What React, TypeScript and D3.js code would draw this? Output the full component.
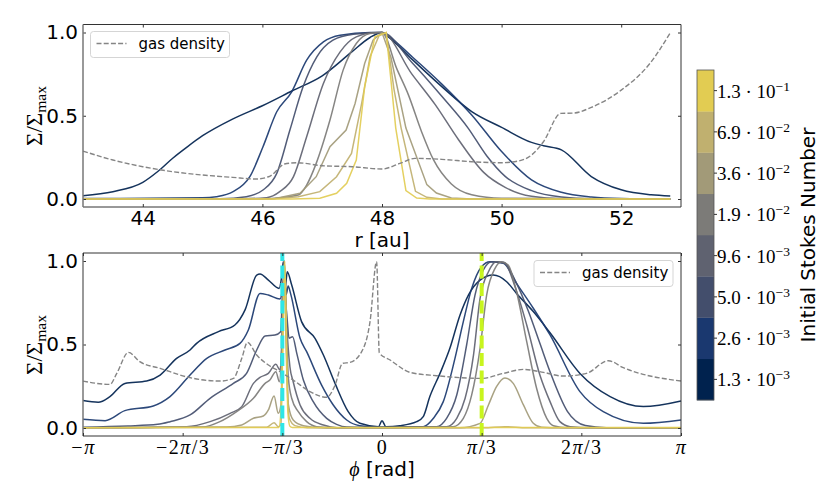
import * as d3 from "d3";
import { useEffect, useRef } from "react";

type Pt = [number, number];

// colour per Stokes bin, lowest first
const stokesColors = ["#00224e", "#1a386f", "#434e6c", "#5f6270", "#7c7b78", "#a29a78", "#c0b06f", "#e2cc52"];
const stokesMant = ["1.3", "2.6", "5.0", "9.6", "1.9", "3.6", "6.9", "1.3"];
const stokesExp = ["−3", "−3", "−3", "−3", "−2", "−2", "−2", "−1"];

// radial profiles, [r au, sigma/sigma_max]
const r1: Pt[] = [[43,.02],[43.5,.044],[44,.1],[44.25,.165],[44.5,.245],[44.75,.315],[45,.38],[45.5,.48],[46,.56],[46.5,.65],[47,.74],[47.5,.885],[47.8,.97],[48,1],[48.1,.975],[48.5,.84],[49,.675],[49.5,.525],[50,.43],[50.5,.34],[50.7,.32],[51,.295],[51.5,.135],[52,.055],[52.5,.025],[52.82,.018]];
const r2: Pt[] = [[43,.003],[45,.007],[45.23,.014],[45.51,.044],[45.79,.134],[46.01,.314],[46.24,.524],[46.49,.644],[46.74,.834],[47.02,.944],[47.3,.984],[47.8,1],[48,1],[48.1,.98],[48.5,.855],[49,.69],[49.5,.505],[50,.285],[50.5,.115],[51,.04],[51.5,.012],[52,.003],[52.82,0]];
const r3: Pt[] = [[43,0],[45.3,.002],[45.73,.014],[46.01,.054],[46.24,.154],[46.46,.414],[46.68,.674],[46.91,.854],[47.18,.954],[47.52,.99],[48,1],[48.5,.82],[49,.617],[49.44,.426],[49.75,.26],[50.06,.136],[50.5,.05],[51,.012],[51.5,.002],[52.82,0]];
const r4: Pt[] = [[43,0],[45.6,.001],[46.07,.008],[46.29,.044],[46.52,.134],[46.74,.374],[47.02,.694],[47.3,.884],[47.57,.974],[47.9,1],[48,1],[48.5,.75],[48.89,.567],[49.28,.356],[49.7,.16],[50.06,.07],[50.5,.016],[51,.002],[52.82,0]];
const r5: Pt[] = [[43,0],[46,.001],[46.6,.024],[46.74,.084],[46.9,.214],[47.13,.474],[47.35,.774],[47.57,.934],[47.8,.994],[48,1],[48.25,.78],[48.44,.627],[48.66,.406],[48.86,.236],[49.16,.09],[49.5,.025],[50,.004],[52.82,0]];
const r6: Pt[] = [[43,0],[46.2,.001],[46.63,.034],[46.9,.134],[47.13,.314],[47.4,.414],[47.55,.574],[47.71,.814],[47.85,.954],[48,1],[48.15,.85],[48.4,.426],[48.75,.086],[48.91,.036],[49.16,.006],[49.5,0],[52.82,0]];
const r7: Pt[] = [[43,0],[46.2,.001],[46.6,.014],[46.96,.044],[47.24,.134],[47.49,.274],[47.66,.574],[47.8,.854],[47.95,.98],[48.07,1],[48.2,.66],[48.32,.426],[48.56,.046],[48.75,.01],[49,0],[52.82,0]];
const r8: Pt[] = [[43,0],[46.5,0],[46.96,.004],[47.24,.034],[47.41,.094],[47.57,.234],[47.71,.674],[47.88,.974],[48.07,1],[48.23,.426],[48.4,.05],[48.58,.006],[48.8,0],[52.82,0]];
const rGas: Pt[] = [[43,.288],[43.5,.234],[44,.194],[44.5,.164],[45,.144],[45.5,.13],[45.9,.12],[46.13,.138],[46.37,.21],[46.57,.218],[47,.2],[47.5,.194],[48,.18],[48.3,.214],[48.55,.244],[49,.238],[49.5,.224],[50,.218],[50.28,.228],[50.5,.264],[50.7,.344],[50.99,.514],[51.2,.516],[51.5,.55],[52,.654],[52.48,.814],[52.82,.998]];

// azimuthal profiles, [phi / pi, sigma/sigma_max]
const p1: Pt[] = [[-1,.164],[-.949,.154],[-.91,.188],[-.86,.267],[-.787,.281],[-.742,.317],[-.687,.417],[-.642,.467],[-.62,.507],[-.547,.577],[-.492,.617],[-.458,.707],[-.419,.916],[-.408,.922],[-.38,.886],[-.344,.836],[-.336,.9],[-.33,.995],[-.323,.85],[-.317,.936],[-.302,.856],[-.269,.637],[-.224,.537],[-.196,.437],[-.157,.267],[-.113,.098],[-.074,.028],[-.012,.008],[0,.044],[.013,.008],[.06,.014],[.116,.038],[.138,.068],[.16,.188],[.194,.327],[.227,.477],[.261,.677],[.289,.796],[.328,.886],[.372,.916],[.417,.876],[.45,.806],[.506,.697],[.562,.57],[.662,.327],[.763,.188],[.874,.128],[1,.162]];
const p2: Pt[] = [[-1,.052],[-.926,.044],[-.86,.104],[-.765,.132],[-.709,.188],[-.642,.317],[-.586,.417],[-.525,.467],[-.475,.507],[-.447,.587],[-.408,.806],[-.38,.796],[-.341,.772],[-.332,.84],[-.326,.92],[-.32,.8],[-.314,.85],[-.305,.8],[-.274,.537],[-.252,.457],[-.202,.257],[-.163,.138],[-.118,.048],[-.074,.014],[-.01,.006],[.138,.008],[.172,.058],[.205,.158],[.244,.417],[.272,.637],[.3,.836],[.333,.966],[.361,.996],[.406,.986],[.45,.866],[.506,.717],[.562,.557],[.662,.218],[.74,.098],[.874,.028],[1,.048]];
const p3: Pt[] = [[-1,.005],[-.85,.012],[-.75,.022],[-.709,.038],[-.642,.078],[-.575,.178],[-.497,.267],[-.453,.327],[-.419,.467],[-.391,.551],[-.358,.557],[-.339,.577],[-.33,.9],[-.322,.75],[-.317,.647],[-.311,.537],[-.299,.547],[-.285,.447],[-.263,.287],[-.23,.158],[-.185,.058],[-.152,.022],[-.118,.006],[0,.002],[.183,.008],[.216,.058],[.25,.198],[.283,.497],[.311,.796],[.339,.946],[.367,.996],[.406,.992],[.45,.866],[.49,.697],[.528,.507],[.562,.337],[.62,.1],[.68,.015],[.75,.002],[1,.002]];
const p4: Pt[] = [[-1,.001],[-.653,.008],[-.575,.038],[-.508,.088],[-.469,.128],[-.43,.267],[-.408,.303],[-.38,.327],[-.355,.381],[-.341,.347],[-.335,.5],[-.327,1],[-.318,.6],[-.308,.367],[-.297,.277],[-.274,.138],[-.241,.058],[-.196,.018],[-.15,.002],[.216,.008],[.25,.058],[.278,.178],[.306,.437],[.328,.776],[.356,.936],[.383,.996],[.411,.986],[.445,.846],[.484,.617],[.528,.317],[.562,.158],[.595,.038],[.629,.008],[.7,.001],[1,.001]];
const p5: Pt[] = [[-1,.001],[-.6,.006],[-.542,.038],[-.486,.098],[-.43,.178],[-.391,.267],[-.375,.287],[-.355,.337],[-.343,.277],[-.335,.5],[-.327,1],[-.32,.6],[-.313,.297],[-.302,.178],[-.28,.098],[-.252,.038],[-.219,.008],[-.15,.001],[.238,.008],[.272,.058],[.3,.198],[.328,.477],[.35,.796],[.378,.956],[.4,.996],[.422,.976],[.45,.816],[.484,.517],[.517,.238],[.551,.058],[.573,.014],[.62,.001],[1,.001]];
const p6: Pt[] = [[-1,.001],[-.52,.006],[-.469,.018],[-.43,.058],[-.397,.072],[-.38,.108],[-.361,.192],[-.347,.088],[-.338,.138],[-.327,1],[-.32,.5],[-.313,.138],[-.297,.048],[-.263,.014],[-.2,.002],[.26,.002],[.328,.028],[.356,.138],[.383,.248],[.411,.3],[.439,.267],[.473,.138],[.506,.028],[.534,.004],[.6,.001],[1,.001]];
const p7: Pt[] = [[-1,.002],[-.386,.004],[-.361,.032],[-.347,.008],[-.338,.02],[-.327,.98],[-.318,.3],[-.31,.058],[-.291,.014],[-.25,.002],[.34,.002],[.411,.008],[.484,.002],[1,.002]];
const p8: Pt[] = [[-1,.002],[-.345,.003],[-.338,.1],[-.33,.6],[-.325,1],[-.32,.6],[-.315,.1],[-.308,.01],[-.3,.003],[1,.003]];
const pGas: Pt[] = [[-1,.281],[-.91,.261],[-.887,.327],[-.848,.453],[-.81,.397],[-.742,.357],[-.631,.297],[-.542,.281],[-.497,.297],[-.469,.417],[-.45,.513],[-.419,.437],[-.38,.377],[-.341,.337],[-.297,.287],[-.241,.218],[-.185,.184],[-.157,.257],[-.132,.387],[-.107,.393],[-.068,.457],[-.04,.637],[-.018,.996],[-.009,.45],[.027,.407],[.094,.333],[.183,.313],[.333,.297],[.406,.327],[.473,.351],[.54,.333],[.606,.311],[.684,.327],[.757,.403],[.807,.361],[1,.281]];

const radial = [r1, r2, r3, r4, r5, r6, r7, r8];
const azimuthal = [p1, p2, p3, p4, p5, p6, p7, p8];

const rTicks = [44, 46, 48, 50, 52];
const phiTicks = [-1, -2 / 3, -1 / 3, 0, 1 / 3, 2 / 3, 1];
const phiLabels = ["−<tspan font-style='italic'>π</tspan>", "−2<tspan font-style='italic'>π</tspan>/3", "−<tspan font-style='italic'>π</tspan>/3", "0", "<tspan font-style='italic'>π</tspan>/3", "2<tspan font-style='italic'>π</tspan>/3", "<tspan font-style='italic'>π</tspan>"];
const sigmaTicks = [0, 0.5, 1];
const planetPhi = -1 / 3;
const vortexPhi = 1 / 3;

const SANS = "'DejaVu Sans', sans-serif";
const SERIF = "'Liberation Serif', serif";

function drawPanel(
  svg: d3.Selection<SVGSVGElement, unknown, null, undefined>,
  box: { l: number; r: number; t: number; b: number; y0: number; y1: number },
  xDomain: [number, number],
  profiles: Pt[][],
  gas: Pt[],
  firstLinear: number,
) {
  const x = d3.scaleLinear().domain(xDomain).range([box.l, box.r]);
  const y = d3.scaleLinear().domain([0, 1]).range([box.y0, box.y1]);
  const line = d3.line<Pt>().x((d) => x(d[0])).y((d) => y(d[1])).curve(d3.curveMonotoneX);
  const straight = d3.line<Pt>().x((d) => x(d[0])).y((d) => y(d[1]));

  const g = svg.append("g");
  profiles.forEach((pts, i) => {
    g.append("path").attr("d", i >= firstLinear ? straight(pts) : line(pts)).attr("fill", "none")
      .attr("stroke", stokesColors[i]).attr("stroke-width", 1.5).attr("stroke-opacity", 0.92);
  });
  g.append("path").attr("d", line(gas)).attr("fill", "none")
    .attr("stroke", "#858585").attr("stroke-width", 1.4).attr("stroke-dasharray", "5,2.2");
  return { x, y, g };
}

function frame(
  svg: d3.Selection<SVGSVGElement, unknown, null, undefined>,
  box: { l: number; r: number; t: number; b: number },
  y: d3.ScaleLinear<number, number>,
) {
  const left = svg.append("g").attr("transform", `translate(${box.l},0)`)
    .call(d3.axisLeft(y).tickValues(sigmaTicks).tickFormat(d3.format(".1f")).tickSizeInner(-3).tickSizeOuter(0).tickPadding(5));
  left.selectAll("text").attr("font-family", SANS).attr("font-size", 20).attr("fill", "#000");
  left.selectAll("line").attr("stroke", "#333");
  left.select("path.domain").remove();
  const right = svg.append("g").attr("transform", `translate(${box.r},0)`)
    .call(d3.axisRight(y).tickValues(sigmaTicks).tickFormat(() => "").tickSizeInner(-3).tickSizeOuter(0));
  right.selectAll("line").attr("stroke", "#333");
  right.select("path.domain").remove();
  svg.append("line").attr("x1", box.l).attr("x2", box.r).attr("y1", box.t).attr("y2", box.t).attr("stroke", "#333");
  svg.append("line").attr("x1", box.l).attr("x2", box.r).attr("y1", box.b).attr("y2", box.b).attr("stroke", "#333");
  svg.append("line").attr("x1", box.r).attr("x2", box.r).attr("y1", box.t).attr("y2", box.b).attr("stroke", "#333");
  svg.append("line").attr("x1", box.l).attr("x2", box.l).attr("y1", box.t).attr("y2", box.b).attr("stroke", "#777").attr("stroke-width", 1.5);
}

function legend(svg: d3.Selection<SVGSVGElement, unknown, null, undefined>, lx: number, ly: number) {
  const g = svg.append("g").attr("transform", `translate(${lx},${ly})`);
  g.append("rect").attr("width", 139).attr("height", 26).attr("rx", 3)
    .attr("fill", "#fff").attr("fill-opacity", 0.8).attr("stroke", "#d5d5d5");
  g.append("line").attr("x1", 6).attr("x2", 36).attr("y1", 12).attr("y2", 12)
    .attr("stroke", "#858585").attr("stroke-width", 1.4).attr("stroke-dasharray", "5,2.2");
  g.append("text").attr("x", 48).attr("y", 17.5).attr("font-family", SANS).attr("font-size", 15).text("gas density");
}

function sigmaLabel(svg: d3.Selection<SVGSVGElement, unknown, null, undefined>, cy: number) {
  const t = svg.append("text").attr("transform", `translate(42,${cy}) rotate(-90)`)
    .attr("text-anchor", "middle").attr("font-family", SERIF).attr("font-size", 23);
  t.append("tspan").text("Σ/Σ");
  t.append("tspan").attr("font-size", 15.5).attr("dy", 4).text("max");
}

export default function App() {
  const ref = useRef<SVGSVGElement>(null);
  useEffect(() => {
    if (!ref.current) return;
    const svg = d3.select(ref.current);
    svg.selectAll("*").remove();

    // top panel
    const topBox = { l: 83, r: 681, t: 24.5, b: 207, y0: 199, y1: 32.5 };
    const top = drawPanel(svg, topBox, [43, 53], radial, rGas, 5);
    frame(svg, topBox, top.y);
    const topAxis = svg.append("g").attr("transform", `translate(0,${topBox.b})`)
      .call(d3.axisBottom(top.x).tickValues(rTicks).tickFormat(d3.format("d")).tickSizeInner(-3).tickSizeOuter(0).tickPadding(4));
    topAxis.selectAll("text").attr("font-family", SANS).attr("font-size", 20).attr("fill", "#000");
    topAxis.selectAll("line").attr("stroke", "#333");
    topAxis.select("path.domain").remove();
    const topMirror = svg.append("g").attr("transform", `translate(0,${topBox.t})`)
      .call(d3.axisTop(top.x).tickValues(rTicks).tickFormat(() => "").tickSizeInner(-3).tickSizeOuter(0));
    topMirror.selectAll("line").attr("stroke", "#333");
    topMirror.select("path.domain").remove();
    legend(svg, 90.5, 31.5);
    sigmaLabel(svg, 116);
    svg.append("text").attr("x", 382).attr("y", 247).attr("text-anchor", "middle")
      .attr("font-family", SANS).attr("font-size", 20).text("r [au]");

    // bottom panel
    const botBox = { l: 83, r: 681, t: 253, b: 436, y0: 428, y1: 261 };
    const bot = drawPanel(svg, botBox, [-1, 1], azimuthal, pGas, 99);
    const markers: [number, string][] = [[planetPhi, "#2ee6e6"], [vortexPhi, "#c8f51e"]];
    markers.forEach(([phi, colour]) => {
      svg.append("line").attr("x1", bot.x(phi)).attr("x2", bot.x(phi))
        .attr("y1", botBox.b).attr("y2", botBox.t)
        .attr("stroke", colour).attr("stroke-width", 4).attr("stroke-dasharray", "13,4.5");
    });
    frame(svg, botBox, bot.y);
    const botAxis = svg.append("g").attr("transform", `translate(0,${botBox.b})`)
      .call(d3.axisBottom(bot.x).tickValues(phiTicks).tickSizeInner(-3).tickSizeOuter(0).tickPadding(4));
    botAxis.selectAll<SVGTextElement, number>("text")
      .attr("font-family", SERIF).attr("font-size", 20).attr("letter-spacing", 1.5).attr("fill", "#000")
      .html((_, i) => phiLabels[i]);
    botAxis.selectAll("line").attr("stroke", "#333");
    botAxis.select("path.domain").remove();
    const botMirror = svg.append("g").attr("transform", `translate(0,${botBox.t})`)
      .call(d3.axisTop(bot.x).tickValues(phiTicks).tickFormat(() => "").tickSizeInner(-3).tickSizeOuter(0));
    botMirror.selectAll("line").attr("stroke", "#333");
    botMirror.select("path.domain").remove();
    legend(svg, 534, 260.5);
    sigmaLabel(svg, 345);
    const phiLabel = svg.append("text").attr("x", 382).attr("y", 476).attr("text-anchor", "middle")
      .attr("font-family", SANS).attr("font-size", 20);
    phiLabel.append("tspan").attr("font-family", SERIF).attr("font-style", "italic").text("ϕ");
    phiLabel.append("tspan").text(" [rad]");

    // colour bar
    const band = d3.scaleBand<number>().domain(d3.range(stokesColors.length)).range([400, 70]);
    const bar = svg.append("g");
    stokesColors.forEach((c, i) => {
      bar.append("rect").attr("x", 697).attr("width", 17).attr("y", band(i)!)
        .attr("height", band.bandwidth() + 0.3).attr("fill", c);
    });
    bar.append("rect").attr("x", 697).attr("y", 70).attr("width", 17).attr("height", 330)
      .attr("fill", "none").attr("stroke", "#555").attr("stroke-width", 0.8);
    stokesMant.forEach((m, i) => {
      const cy = band(i)! + band.bandwidth() / 2;
      bar.append("line").attr("x1", 714).attr("x2", 717).attr("y1", cy).attr("y2", cy).attr("stroke", "#333");
      const t = bar.append("text").attr("x", 717).attr("y", cy + 7).attr("font-family", SERIF).attr("font-size", 19);
      t.append("tspan").text(`${m} · 10`);
      t.append("tspan").attr("font-size", 13.5).attr("dy", -7).text(stokesExp[i]);
    });
    svg.append("text").attr("transform", "translate(815,235) rotate(-90)").attr("text-anchor", "middle")
      .attr("font-family", SANS).attr("font-size", 20).text("Initial Stokes Number");
  }, []);
  return <svg ref={ref} width={830} height={485} style={{ position: "absolute", left: 0, top: 0, background: "#fff" }} />;
}
